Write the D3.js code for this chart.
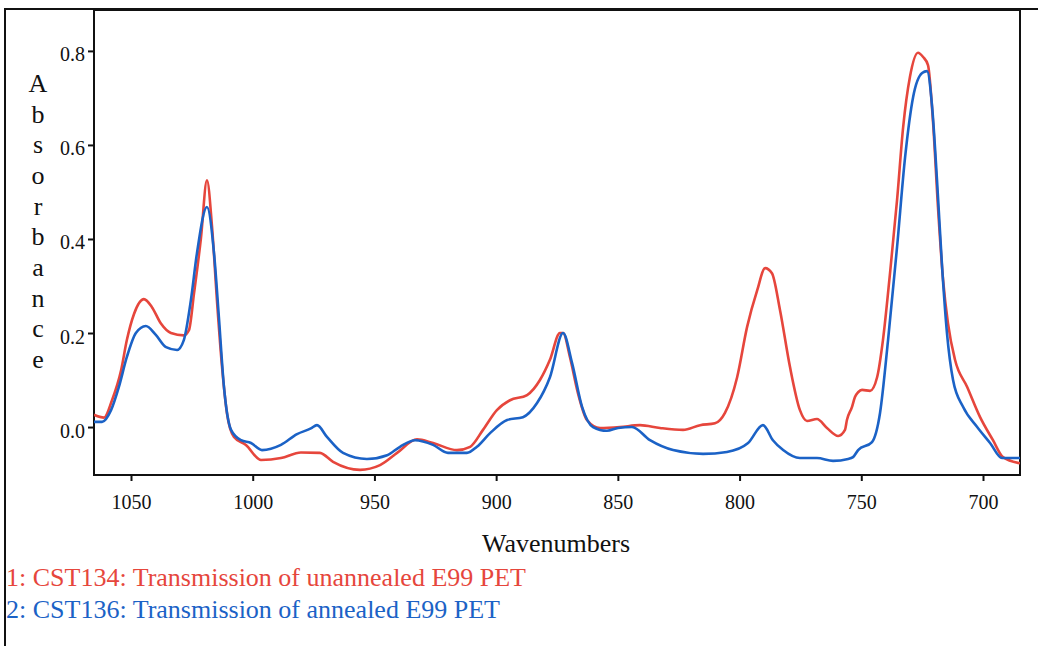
<!DOCTYPE html>
<html>
<head>
<meta charset="utf-8">
<script src="https://cdn.jsdelivr.net/npm/d3@7"></script>
<style>
  html, body { margin: 0; padding: 0; background: #fff; }
  svg { display: block; }
  text { font-family: 'Liberation Serif', 'Times New Roman', serif; }
</style>
</head>
<body>
<div id="chart"></div>
<script>
// spectra: [wavenumber, absorbance]
const unannealed = [
  [1065.2, 0.026], [1061.1, 0.020], [1057.8, 0.057], [1054.1, 0.120], [1051.7, 0.185],
  [1048.8, 0.240], [1044.7, 0.272], [1041.4, 0.255], [1037.7, 0.220], [1033.6, 0.200],
  [1028.3, 0.195], [1026.2, 0.206], [1024.1, 0.285], [1021.3, 0.400], [1018.8, 0.525],
  [1016.7, 0.425], [1014.7, 0.270], [1012.6, 0.128], [1010.6, 0.030], [1007.7, -0.021],
  [1002.8, -0.038], [996.6, -0.070], [988.4, -0.066], [980.2, -0.054], [972.4, -0.055],
  [967.0, -0.074], [955.9, -0.091], [947.7, -0.081], [940.7, -0.055], [932.5, -0.026],
  [925.9, -0.034], [916.1, -0.049], [910.7, -0.042], [905.4, -0.006], [899.7, 0.036],
  [894.3, 0.057], [887.3, 0.068], [882.0, 0.100], [877.9, 0.143], [873.8, 0.200],
  [872.5, 0.200], [869.7, 0.149], [866.4, 0.072], [862.7, 0.015], [857.3, -0.002],
  [849.1, 0.000], [840.9, 0.004], [832.7, -0.002], [823.2, -0.006], [816.2, 0.004],
  [810.1, 0.008], [806.0, 0.030], [801.0, 0.106], [796.9, 0.213], [792.8, 0.290],
  [789.5, 0.338], [786.7, 0.327], [783.4, 0.249], [779.3, 0.128], [775.2, 0.036],
  [772.3, 0.013], [768.2, 0.017], [764.1, -0.002], [759.5, -0.019], [756.7, -0.006],
  [755.9, 0.015], [753.8, 0.043], [752.6, 0.064], [751.3, 0.074], [749.7, 0.079],
  [746.4, 0.077], [743.5, 0.106], [741.1, 0.185], [738.2, 0.327], [735.3, 0.483],
  [732.8, 0.638], [730.0, 0.745], [726.7, 0.796], [724.6, 0.787], [722.6, 0.770],
  [720.5, 0.647], [718.5, 0.468], [716.4, 0.313], [714.4, 0.221], [711.5, 0.143],
  [706.5, 0.085], [701.2, 0.021], [695.9, -0.028], [691.8, -0.064], [684.8, -0.077]
]

const annealed = [
  [1065.2, 0.011], [1061.9, 0.011], [1058.2, 0.036], [1055.0, 0.085], [1051.7, 0.149],
  [1048.0, 0.200], [1043.9, 0.215], [1039.8, 0.196], [1035.6, 0.170], [1031.1, 0.164],
  [1028.3, 0.185], [1025.4, 0.270], [1022.9, 0.370], [1018.8, 0.468], [1015.9, 0.370],
  [1013.9, 0.234], [1011.8, 0.085], [1008.9, -0.006], [1004.8, -0.028], [1000.7, -0.034],
  [996.2, -0.049], [988.4, -0.038], [981.8, -0.015], [976.1, -0.003], [973.6, 0.004],
  [969.5, -0.021], [962.9, -0.055], [953.1, -0.068], [944.8, -0.060], [939.5, -0.042],
  [933.3, -0.028], [925.9, -0.038], [919.8, -0.055], [912.0, -0.055], [907.9, -0.042],
  [902.5, -0.013], [895.5, 0.015], [889.0, 0.021], [883.2, 0.051], [877.9, 0.106],
  [872.5, 0.200], [868.8, 0.136], [864.7, 0.043], [860.2, 0.000], [854.5, -0.008],
  [849.9, -0.002], [844.2, 0.000], [836.8, -0.028], [827.3, -0.049], [815.0, -0.057],
  [805.2, -0.053], [796.5, -0.034], [790.4, 0.004], [786.3, -0.028], [782.1, -0.049],
  [775.2, -0.066], [768.2, -0.066], [761.6, -0.072], [755.4, -0.068], [753.4, -0.064],
  [751.3, -0.049], [745.6, -0.032], [742.3, 0.030], [739.0, 0.185], [735.3, 0.383],
  [732.0, 0.574], [728.7, 0.702], [725.0, 0.753], [723.0, 0.757], [720.9, 0.681],
  [718.9, 0.526], [716.8, 0.340], [714.8, 0.200], [712.3, 0.100], [708.2, 0.043],
  [702.4, 0.000], [697.1, -0.034], [692.2, -0.066], [684.8, -0.066]
]

const xTicks = [1050, 1000, 950, 900, 850, 800, 750, 700]
const yTicks = [0.0, 0.2, 0.4, 0.6, 0.8]
const legendLabels = [
  '1: CST134: Transmission of unannealed E99 PET',
  '2: CST136: Transmission of annealed E99 PET'
]
const seriesColors = ['#e6463c', '#1b62c6']

const W = 1038, H = 646
const box = { left: 94, top: 10, right: 1020, bottom: 475 }

const svg = d3.select('#chart').append('svg')
  .attr('width', W).attr('height', H)

const x = d3.scaleLinear().domain([1065.2, 684.8]).range([box.left, box.right])
const y = d3.scaleLinear().domain([-0.102, 0.887]).range([box.bottom, box.top])

// outer frame (left + top edges only)
svg.append('path')
  .attr('d', `M5,${H} L5,9 L${W},9`)
  .attr('fill', 'none').attr('stroke', '#111').attr('stroke-width', 2)

// plot box
svg.append('rect')
  .attr('x', box.left).attr('y', box.top)
  .attr('width', box.right - box.left).attr('height', box.bottom - box.top)
  .attr('fill', 'none').attr('stroke', '#111').attr('stroke-width', 2)

const xAxis = svg.append('g')
  .attr('transform', `translate(0,${box.bottom})`)
  .call(d3.axisBottom(x).tickValues(xTicks).tickSize(6).tickPadding(14).tickFormat(d3.format('d')))
const yAxis = svg.append('g')
  .attr('transform', `translate(${box.left},0)`)
  .call(d3.axisLeft(y).tickValues(yTicks).tickSize(6).tickPadding(3).tickFormat(d3.format('.1f')))

for (const ax of [xAxis, yAxis]) {
  ax.select('.domain').remove()
  ax.selectAll('line').attr('stroke', '#111').attr('stroke-width', 2)
  ax.selectAll('text').attr('font-size', '20px').attr('fill', '#111')
    .attr('font-family', "'Liberation Serif', serif")
}
yAxis.selectAll('text').attr('dy', '0.5em')

// vertical stacked y label
const yLabel = 'Absorbance'.split('')
svg.append('g').selectAll('text').data(yLabel).enter().append('text')
  .text(d => d)
  .attr('x', 38).attr('y', (d, i) => 92 + i * 30.67)
  .attr('text-anchor', 'middle')
  .attr('font-size', '26px').attr('fill', '#111')

svg.append('text')
  .text('Wavenumbers')
  .attr('x', 556).attr('y', 552)
  .attr('text-anchor', 'middle')
  .attr('font-size', '26px').attr('fill', '#111')

const clip = svg.append('clipPath').attr('id', 'plot-clip')
  .append('rect')
  .attr('x', box.left).attr('y', box.top)
  .attr('width', box.right - box.left).attr('height', box.bottom - box.top)

const line = d3.line()
  .x(d => x(d[0]))
  .y(d => y(d[1]))
  .curve(d3.curveMonotoneX)

const plot = svg.append('g').attr('clip-path', 'url(#plot-clip)')
;[unannealed, annealed].forEach((s, i) => {
  plot.append('path')
    .datum(s)
    .attr('d', line)
    .attr('fill', 'none')
    .attr('stroke', seriesColors[i])
    .attr('stroke-width', 2.6)
    .attr('stroke-linejoin', 'round')
})

svg.append('g').selectAll('text').data(legendLabels).enter().append('text')
  .text(d => d)
  .attr('x', 6).attr('y', (d, i) => 586 + i * 32)
  .attr('font-size', '26px')
  .attr('fill', (d, i) => seriesColors[i])
</script>
</body>
</html>
